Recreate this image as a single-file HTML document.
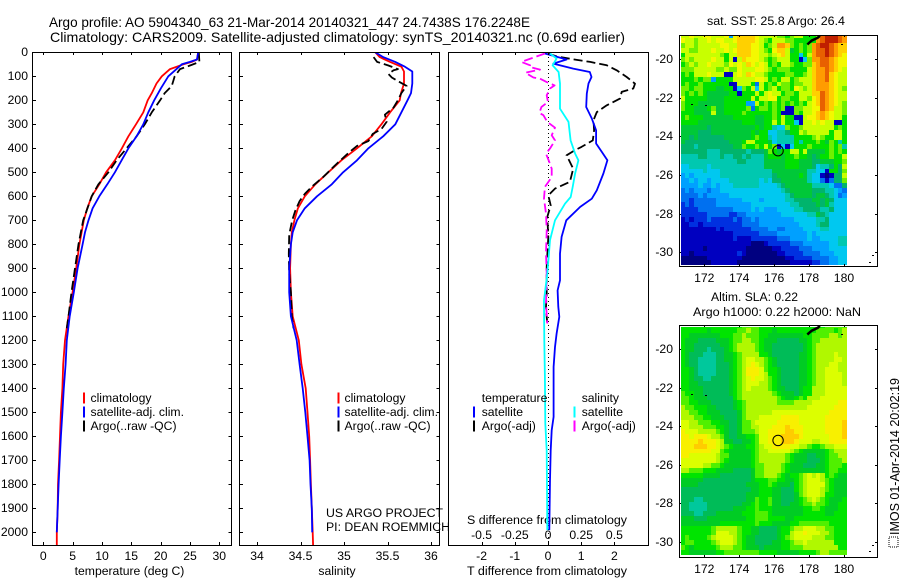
<!DOCTYPE html>
<html><head><meta charset="utf-8"><title>Argo profile 5904340_63</title>
<style>
html,body{margin:0;padding:0;background:#fff}
svg{display:block}
text{font-family:"Liberation Sans",sans-serif;font-size:12.2px;fill:#000}
.ttl{font-size:14px}
</style></head>
<body>
<svg id="fig" xmlns="http://www.w3.org/2000/svg" width="900" height="580" viewBox="0 0 900 580">
<defs>
<clipPath id="clipA"><rect x="33" y="53" width="198" height="492"/></clipPath>
<clipPath id="clipB"><rect x="240" y="53" width="199" height="492"/></clipPath>
<clipPath id="clipC"><rect x="449" y="53" width="199" height="492"/></clipPath>
<clipPath id="clipSST"><rect x="681" y="36" width="166" height="229"/></clipPath>
<clipPath id="clipSLA"><rect x="681" y="327" width="166" height="228"/></clipPath>
</defs>
<text class="ttl" x="49" y="27" textLength="481" lengthAdjust="spacingAndGlyphs">Argo profile: AO 5904340_63 21-Mar-2014 20140321_447 24.7438S 176.2248E</text>
<text class="ttl" x="50" y="42" textLength="575" lengthAdjust="spacingAndGlyphs">Climatology: CARS2009. Satellite-adjusted climatology: synTS_20140321.nc (0.69d earlier)</text>
<text x="707" y="25" textLength="138" lengthAdjust="spacingAndGlyphs">sat. SST: 25.8 Argo: 26.4</text>
<text x="711" y="301" textLength="87" lengthAdjust="spacingAndGlyphs">Altim. SLA: 0.22</text>
<text x="693" y="316" textLength="168" lengthAdjust="spacingAndGlyphs">Argo h1000: 0.22 h2000: NaN</text>
<text x="129.5" y="575" text-anchor="middle">temperature (deg C)</text>
<text x="337" y="575" text-anchor="middle">salinity</text>
<text x="467" y="575" textLength="160" lengthAdjust="spacingAndGlyphs">T difference from climatology</text>
<text x="467" y="524" textLength="160" lengthAdjust="spacingAndGlyphs">S difference from climatology</text>
<rect x="889" y="537" width="9" height="10" fill="none" stroke="#000" stroke-width="1" stroke-dasharray="1 1"/>
<text style="font-size:13px" transform="translate(899,535) rotate(-90)" textLength="157" lengthAdjust="spacingAndGlyphs">IMOS 01-Apr-2014 20:02:19</text>
<g id="plots"></g>
<text x="326" y="517" textLength="117" lengthAdjust="spacingAndGlyphs">US ARGO PROJECT</text>
<text x="326" y="531" textLength="124" lengthAdjust="spacingAndGlyphs">PI: DEAN ROEMMICH</text>
</svg>
<script>
// Shared depth ticks and axis tick labels
var depthTicks = [0,100,200,300,400,500,600,700,800,900,1000,1100,1200,1300,1400,1500,1600,1700,1800,1900,2000];
var tempTicks = [0,5,10,15,20,25,30];
var salTicks = [34,34.5,35,35.5,36];
var salTickLabels = ['34','34.5','35','35.5','36'];
var dTTicks = [-2,-1,0,1,2];
var dSTicks = [-0.5,-0.25,0,0.25,0.5];
var dSTickLabels = ['-0.5','-0.25','0','0.25','0.5'];
var lonTicks = [172,174,176,178,180];
var latTicks = [-20,-22,-24,-26,-28,-30];

// Temperature profiles
var climTDepth = [0,30,40,50,70,100,130,170,200,250,300,350,400,450,500,550,600,650,700,800,900,1000,1100,1200,1300,1400,1500,1600,1700,1800,1900,2000,2055];
var climTValue = [26.4,26.2,25.3,23.9,21.6,20.2,19.3,18.5,17.8,17.05,15.8,14.5,13.4,12.2,10.7,9.55,8.25,7.5,6.9,6.15,5.6,5.0,4.3,3.7,3.4,3.25,3.0,2.85,2.7,2.5,2.45,2.3,2.3];
var satTDepth = [0,30,40,50,70,100,150,200,250,300,350,400,450,500,550,600,650,700,750,800,900,1000,1100,1200,1300,1400,1500,1600,1700,1800,1900,2000];
var satTValue = [26.4,26.2,25,23.6,22.7,21.3,20.05,18.9,17.9,17.05,15.9,14.5,13.35,12.2,10.9,9.55,8.4,7.7,7.1,6.7,5.85,5.2,4.5,4.0,3.8,3.5,3.25,3.0,2.8,2.6,2.45,2.3];
var argoTDepth = [0,40,55,70,100,140,170,200,250,300,350,400,450,500,550,600,700,800,900,1000,1100,1150];
var argoTValue = [26.5,26.6,25,23.3,22.4,21.9,20.7,19.9,18.5,17.3,15.9,14.2,12.5,11.1,9.4,8.25,6.8,6,5.4,4.8,4.3,4.0];

// Salinity profiles
var climSDepth = [0,20,40,60,80,130,170,200,250,300,350,400,450,500,550,600,650,700,750,800,900,1000,1100,1200,1300,1400,1500,1600,1700,1800,1900,2000,2055];
var climSValue = [35.36,35.41,35.53,35.66,35.69,35.69,35.655,35.64,35.53,35.43,35.32,35.15,34.97,34.82,34.67,34.55,34.47,34.43,34.4,34.39,34.38,34.39,34.41,34.48,34.51,34.56,34.58,34.6,34.61,34.62,34.63,34.64,34.645];
var satSDepth = [0,20,40,60,80,130,170,200,250,300,350,400,450,500,550,600,650,700,750,800,900,1000,1100,1200,1300,1400,1500,1600,1700,1800,1900,2000];
var satSValue = [35.36,35.45,35.59,35.7,35.785,35.785,35.77,35.73,35.66,35.59,35.45,35.28,35.15,34.99,34.86,34.69,34.55,34.46,34.41,34.39,34.37,34.37,34.39,34.456,34.49,34.525,34.555,34.58,34.605,34.615,34.63,34.635];
var argoSDepth = [20,40,55,70,75,90,105,120,140,170,200,230,260,290,320,340,370,390,420,470,520,560,590,620,660,700,760,840,920,1000,1100,1150];
var argoSValue = [35.34,35.38,35.51,35.62,35.57,35.51,35.55,35.62,35.72,35.66,35.62,35.57,35.47,35.49,35.43,35.33,35.28,35.15,35.05,34.9,34.76,34.63,34.55,34.49,34.44,34.405,34.37,34.365,34.37,34.39,34.4,34.42];

// Differences from climatology
var diffTSatDepth = [5,30,47,68,82,103,130,172,228,276,325,380,415,450,505,575,610,644,700,769,839,950,992,1061,1102,1172,1228,1311,1519,1575,1658,1783,1991];
var diffTSatValue = [-0.09,0.56,0.16,0.76,1.26,1.31,1.22,1.17,1.15,1.32,1.45,1.45,1.62,1.79,1.67,1.47,1.32,0.97,0.55,0.41,0.36,0.36,0.29,0.31,0.34,0.26,0.21,0.17,0.17,0.11,0.08,0.06,0.04];
var diffTArgoDepth = [6,17,29,40,54,75,103,131,151,165,193,221,249,283,325,367,394,408,429,485,540,568,596,638,686,769,894,1006,1061,1102,1130];
var diffTArgoValue = [0.01,0.26,0.76,1.27,1.77,2.07,2.37,2.62,2.57,2.22,2.17,1.77,1.47,1.37,1.39,1.35,1.01,0.81,0.56,0.76,0.66,0.21,0.01,0.08,-0.02,0.01,-0.04,-0.04,-0.06,-0.04,-0.02];
var diffSSatDepth = [5,26,54,82,130,235,290,367,422,450,505,561,603,631,700,783,922,1033,1047,1200,1352,1547,1658,1991];
var diffSSatValue = [0.015,0.065,0.035,0.08,0.09,0.09,0.154,0.17,0.204,0.229,0.204,0.186,0.171,0.128,0.053,0.015,-0.005,-0.03,-0.03,-0.028,-0.023,-0.02,-0.01,-0.005];
var diffSArgoDepth = [5,22,40,54,61,72,85,105,110,124,138,151,179,207,228,253,262,290,314,346,367,401,422,457,485,520,561,610,672,742,839,922,1047,1130];
var diffSArgoValue = [-0.023,-0.11,-0.2,-0.135,-0.14,-0.06,-0.17,-0.11,-0.06,-0.01,0.05,0.015,-0.01,0,-0.05,-0.065,-0.035,-0.005,0.053,0.028,0.053,0.015,-0.015,0.01,0.028,0.028,-0.023,-0.03,-0.015,-0.01,-0.015,-0.01,-0.015,-0.005];

// Map grids: one character per 0.25 degree cell, colour level (base 36)
var sstRows = [
"bbcbbccbbb c4cddddcbb bbaa9abb99 9afgggfe",
"cbbabbcbcc bbcddddcba 9bbbaa9999 9efgggfe",
"abbabbbbbc cbbdddccb9 abeeda9a9a efggfedd",
"bbaabbbcbb cbcdddccba 9cddb89a9a effgfedd",
"9bbbbbbbba 9bbdddccbb abcdb9959b effgfedc",
"ababbbbcbb 9b1bdcccba 9abbb9915a eeffedcc",
"9ababbcbbb acbcbdcbcb 9a9bba99aa deffedcc",
"aaabbbbbaa baacbbbccb a9aaa9999b deefedcb",
"9a9bbbcbbb 11bcbdcbba 9999aa99ab deefdcbb",
"999a9aa499 99bbbbbccb 9a9bb9abbb deefdcbb",
"9a99a99999 911bbb93b9 a9baa9aabb deeedcbb",
"aa9aa99988 9915a9b5b9 ab9aa9cbab deeedcba",
"a9a9a98888 8991999b9b cbb9aa9bbb ddfedcbb",
"b999998888 999999b9bb cc9aa99bba cdfedcbb",
"a999888888 9999944b9a 9a9a9a9a9b cdfedcba",
"a998889a88 99999a39aa 9a9a11aabb ccfedbba",
"9998888b88 9999a99999 9a9111a9bb cdedcbba",
"9a99988888 8899999889 9a9b9911bc cdedcbb9",
"9999888888 8888999889 9b9b9951bb cbcbb119",
"8888887888 8888888989 9655a99abb bbbbb9a9",
"8888777888 8888889899 5566799bab bbbb9bb9",
"8878777777 8888889a99 6566669999 aba99bb9",
"8777777777 78889bb999 8566669699 9a98a969",
"7776777777 7788a99a9b 9a15159 99a 9999a9a6",
"7777776667 7777767778 a9899bb9b8 8889a9a9",
"6666776667 6677676668 999899a998 7899a99b",
"6666666666 6667766668 8888999888 7788899a",
"5566665666 6666666668 8888999888 7566797b",
"5555565556 6666666666 6888888886 6551997a",
"4545555556 6666666666 6788888986 5510177b",
"4454554555 5666666656 5778888886 5531377a",
"4444544545 5566666655 5567888888 66665337",
"3434443445 5555555555 5556788888 77766543",
"3333434444 4555555555 5555678888 78876534",
"3323333344 4444555545 5555667777 88787555",
"2323333344 4444445555 5555566777 78786555",
"2222333333 3344445454 4455556677 77667555",
"2222223333 3223344444 4445555556 68765555",
"1212223222 2232334344 4444445555 56675555",
"1122122222 2222333344 4444444555 56775555",
"1111111121 2222223333 4433444455 55665555",
"1111111111 1122222233 3344444445 45555555",
"1111111111 1121112222 2233344445 44555566",
"1111111111 1111110001 2222233344 44445566",
"1111101111 1111100000 0112222333 44445555",
"1101111111 1112100000 0011222233 33444555",
"0000001111 1111000000 0000112222 33334455",
"0000000111 1110000000 0000011111 22334455"
];
var slaRows = [
"9999999999 9999aaaa99 9999999999 9a9aaaaa",
"9999998999 999aabaa99 9899999999 9aaaa9ab",
"9988888889 99aabaaa99 8888888899 aaaabbab",
"9888777788 89aabbaa98 8877777889 aabbbbbb",
"9887777778 89abbbba98 8777777789 abbbbbbb",
"9887776777 89abbbba98 8777777789 abbbbbbb",
"9877766677 889abbbb99 8777777889 abbbbcbb",
"9877666677 889abccbba 9877777889 abbbbccb",
"9877666677 789abcdcba 9877777889 abbbccbb",
"9987666677 789abdddca 9987777889 abbcccbb",
"9987666677 789abdddcb 9987777889 abbccccb",
"9987766777 789abcdccb a987777889 abbccccb",
"9988777777 789abcccbb a987777889 abbccccb",
"9988877777 789abcbbbb a988777899 bbbccccc",
"a998877777 789abbbbbb ba98887899 bbbccccc",
"aa98887777 779abbbbbb bba9889a9b bbcccccc",
"aa99888777 7789abbbbb bbaaaabbbb ccccccdd",
"baa9998877 7789abbbbb bbbbbbbbbc cccccddd",
"bbaa998887 7778abbbbb bccccccccc ccccdddd",
"bbbaa99888 7778abbbcc cccddddccc cccddddd",
"ccbbaaa998 8778aabccc ccdddddccc cccdddde",
"ccbbbaaa99 8778aabbcc cdddedddcc cccdddde",
"dcccbbbba9 8778aaabcc ddddeeddcc cccdddde",
"ddcdddcbba 8778899acc dddeeeedcc ccccddde",
"ddddedddcb 8877889acc dddeeedccc bbccdddd",
"dddeeeddcb a988899abc cddddccbba 99abbccc",
"dddddddcca 9888889abb cccccba988 8889abbb",
"ddccccccba a888889abb bbbba98887 7889aabb",
"ccccccccba 9888889abb bbbba98887 7789aaab",
"cccccbbaa9 8888889aab bbba988877 7889aaa9",
"bbaaa99988 8877778aab bbba988888 8889aa99",
"9999988887 7777778aab bba9899abc bcb9a988",
"8888877777 7777778999 aa99889abc ccba9888",
"8888777777 7777788899 a988879abc ccca9888",
"7777777777 7777778899 9887779abc ccba9888",
"7777777777 7777788899 9887778abc ccb99888",
"7776677777 7777788a99 a88777 89ab cba98889",
"7766667777 7777889a99 a887788 9aa baa98899",
"7766667777 7788899a99 9888888899 aa988899",
"7776677788 8888999aaa 9888888899 99988999",
"8887778888 8888899aaa 9999889999 99999999",
"8888888889 9999999a99 9888899aaa aaaa9999",
"9999999abb bbba998877 77899abbcc cbbaa999",
"9999999acc cbba998877 77899bccdc ccbba999",
"9a9999abcc ccba988777 7789abcccc bbbaa999",
"9aa9999abc ccba988777 78899abbcb bbbbb999",
"a989999 9ab bbaa988878 88899aaabb bbbbbb99",
"9988888899 aaaaaaaa99 9988888999 9abbaaaa"
];
var sstColors = ['#000080','#0000c0','#0030e0','#0070f0','#00a0ff','#00c8f0','#00c8b0','#00b46c','#00c838','#00e000','#70f000','#c8ff00','#f4f800','#ffd000','#ff9c00','#e86000','#c02000'];
var slaColors = ['#000080','#0000c0','#0030e0','#0070f0','#00a0ff','#00c8f0','#00c89c','#00bc58','#00cc24','#00e400','#50f000','#b0f800','#dcff00','#f8f000','#ffcc00'];

// Float position and coastline fragments (lon, lat)
var floatLon = [176.2248];
var floatLat = [-24.7438];
var islandLon = [177.9,178.15,178.5,178.62];
var islandLat = [-19.25,-19.05,-18.9,-18.8];
var speckLon = [171.25,172.05,179.83,181.45,181.6];
var speckLat = [-22.35,-22.4,-19.2,-30.5,-30.15];

var NS = 'http://www.w3.org/2000/svg';
var root = document.getElementById('plots');
function mk(tag, name, parent, attrs) {
  var el = document.createElementNS(NS, tag);
  
  
  for (var k in attrs) el.setAttribute(k, attrs[k]);
  (parent || root).appendChild(el);
  return el;
}
function txt(name, s, x, y, anchor) {
  var t = mk('text', name, root, {x: x, y: y, 'text-anchor': anchor || 'start'});
  t.textContent = s;
  return t;
}
function line(name, x1, y1, x2, y2) {
  return mk('line', name, root, {x1: x1, y1: y1, x2: x2, y2: y2, stroke: '#000', 'stroke-width': 1, 'shape-rendering': 'crispEdges'});
}
// Axis functions
function yD(d) { return 52.3 + 0.24 * d; }
function xT(v) { return 43.3 + 5.867 * v; }
function xS(v) { return 257 + 87 * (v - 34); }
function xDT(v) { return 548 + 33.2 * v; }
function xDS(v) { return 548 + 132.8 * v; }
function xLon(v) { return 704.3 + 17.46 * (v - 172); }
function ySST(v) { return 59 - 19.33 * (v + 20); }
function ySLA(v) { return 349 - 19.27 * (v + 20); }

function frame(name, x0, y0, x1, y1) {
  return mk('rect', name, root, {x: x0 + .5, y: y0 + .5, width: x1 - x0, height: y1 - y0, fill: 'none', stroke: '#000', 'stroke-width': 1, 'shape-rendering': 'crispEdges'});
}
function series(name, xf, values, depths, color, clip, dashed, w) {
  var pts = values.map(function (v, i) { return xf(v).toFixed(1) + ',' + yD(depths[i]).toFixed(1); }).join(' ');
  var a = {points: pts, fill: 'none', stroke: color, 'stroke-width': w || 1.8, 'clip-path': 'url(#' + clip + ')', 'stroke-linejoin': 'round'};
  if (dashed) a['stroke-dasharray'] = '9 4';
  return mk('polyline', name, root, a);
}
function depthAxis(x0, x1, withLabels) {
  depthTicks.forEach(function (d) {
    var y = Math.round(yD(d)) + .5;
    if (d > 0) {
      line('depth-tick', x0, y, x0 + 4, y);
      line('depth-tick', x1 - 3, y, x1, y);
    }
    if (withLabels) txt('depth-tick-label', String(d), 28, Math.round(yD(d)) + 4, 'end');
  });
}
function bottomAxis(ticks, labels, xf, yLab, baseName, yBot, yTop) {
  ticks.forEach(function (v, i) {
    var x = Math.round(xf(v)) + .5;
    line(baseName + '-tick', x, yBot - 3, x, yBot);
    line(baseName + '-tick', x, yTop, x, yTop + 3);
    txt(baseName + '-tick-label', labels[i], xf(v), yLab, 'middle');
  });
}
function fmt(a) { return a.map(String); }

// Panel 1 temperature
series('climatology-temperature-line', xT, climTValue, climTDepth, '#ff0000', 'clipA');
series('argo-temperature-line', xT, argoTValue, argoTDepth, '#000000', 'clipA', true);
series('satellite-temperature-line', xT, satTValue, satTDepth, '#0000ff', 'clipA');
// Panel 2 salinity
series('climatology-salinity-line', xS, climSValue, climSDepth, '#ff0000', 'clipB');
series('argo-salinity-line', xS, argoSValue, argoSDepth, '#000000', 'clipB', true);
series('satellite-salinity-line', xS, satSValue, satSDepth, '#0000ff', 'clipB');
// Panel 3 differences
mk('line', 'zero-difference-line', root, {x1: 548.5, y1: 53, x2: 548.5, y2: 545, stroke: '#000', 'stroke-width': 1, 'stroke-dasharray': '1 3'});
series('temperature-argo-difference-line', xDT, diffTArgoValue, diffTArgoDepth, '#000000', 'clipC', true);
series('salinity-argo-difference-line', xDS, diffSArgoValue, diffSArgoDepth, '#ff00ff', 'clipC', true);
series('temperature-satellite-difference-line', xDT, diffTSatValue, diffTSatDepth, '#0000ff', 'clipC');
series('salinity-satellite-difference-line', xDS, diffSSatValue, diffSSatDepth, '#00ffff', 'clipC');

// Frames and axes
frame('temperature-axes-frame', 32, 52, 231, 545);
frame('salinity-axes-frame', 239, 52, 439, 545);
frame('difference-axes-frame', 448, 52, 648, 545);
depthAxis(32, 231.5, true);
depthAxis(239, 439.5, false);
bottomAxis(tempTicks, fmt(tempTicks), xT, 560, 'temperature', 545, 52);
bottomAxis(salTicks, salTickLabels, xS, 560, 'salinity', 545, 52);
bottomAxis(dTTicks, fmt(dTTicks), xDT, 560, 't-difference', 545, 52);
dSTicks.forEach(function (v, i) {
  txt('s-difference-tick-label', dSTickLabels[i], xDS(v), 539, 'middle');
});

// Legends
function legend(prefix, bx, tx, entries) {
  entries.forEach(function (e, i) {
    var base = 402 + i * 14;
    if (e[1]) mk('rect', prefix + '-legend-swatch', root, {x: bx, y: base - 9.5, width: 2, height: 11, fill: e[1]});
    txt(prefix + '-legend-label', e[0], tx, base);
  });
}
var legendMain = [['climatology', '#ff0000'], ['satellite-adj. clim.', '#0000ff'], ['Argo(..raw -QC)', '#000000']];
legend('temperature', 83, 90.5, legendMain);
legend('salinity', 337.5, 344.5, legendMain);
legend('difference-temperature', 473, 481.7, [['temperature', null], ['satellite', '#0000ff'], ['Argo(-adj)', '#000000']]);
legend('difference-salinity', 573.5, 581.7, [['salinity', null], ['satellite', '#00ffff'], ['Argo(-adj)', '#ff00ff']]);

// Heatmaps
function heatmap(name, rows, colors, yf, clip) {
  var g = mk('g', name, root, {'clip-path': 'url(#' + clip + ')', 'shape-rendering': 'crispEdges'});
  var lon0 = 170.65, lat0 = -18.67, step = 0.25;
  rows.forEach(function (r, ri) {
    var s = r.replace(/ /g, '');
    for (var c = 0; c < 38; c++) {
      var ch = s.charAt(Math.min(c, s.length - 1));
      var x0 = xLon(lon0 + c * step), x1 = xLon(lon0 + (c + 1) * step);
      var y0 = yf(lat0 - ri * step), y1 = yf(lat0 - (ri + 1) * step);
      var cell = document.createElementNS(NS, 'rect');
      
      
      cell.setAttribute('x', Math.round(x0));
      cell.setAttribute('y', Math.round(y0));
      cell.setAttribute('width', Math.round(x1) - Math.round(x0));
      cell.setAttribute('height', Math.round(y1) - Math.round(y0));
      cell.setAttribute('fill', colors[parseInt(ch, 36)]);
      g.appendChild(cell);
    }
  });
}
heatmap('sst-heatmap', sstRows, sstColors, ySST, 'clipSST');
heatmap('sla-heatmap', slaRows, slaColors, ySLA, 'clipSLA');

function mapDecor(prefix, yf) {
  var pts = islandLon.map(function (v, i) { return xLon(v).toFixed(1) + ',' + yf(islandLat[i]).toFixed(1); }).join(' ');
  mk('polyline', prefix + '-island', root, {points: pts, fill: 'none', stroke: '#000', 'stroke-width': 2.5});
  speckLon.forEach(function (v, i) {
    mk('rect', prefix + '-coast-speck', root, {x: Math.round(xLon(v)), y: Math.round(yf(speckLat[i])), width: 2, height: 1, fill: '#000'});
  });
  mk('circle', prefix + '-float-marker', root, {cx: xLon(floatLon[0]), cy: yf(floatLat[0]), r: 5.2, fill: 'none', stroke: '#000', 'stroke-width': 1});
}
mapDecor('sst', ySST);
mapDecor('sla', ySLA);

function mapAxes(prefix, yf, top, bottom, labY) {
  frame(prefix + '-map-frame', 679, top, 877, bottom);
  lonTicks.forEach(function (v) {
    var x = Math.round(xLon(v)) + .5;
    line(prefix + '-lon-tick', x, bottom - 2, x, bottom);
    line(prefix + '-lon-tick', x, top, x, top + 2);
    txt(prefix + '-lon-tick-label', String(v), xLon(v), labY, 'middle');
  });
  latTicks.forEach(function (v) {
    var y = Math.round(yf(v)) + .5;
    line(prefix + '-lat-tick', 679, y, 681, y);
    line(prefix + '-lat-tick', 875, y, 877, y);
    txt(prefix + '-lat-tick-label', String(v), 673, Math.round(yf(v)) + 4, 'end');
  });
}
mapAxes('sst', ySST, 35, 266, 282);
mapAxes('sla', ySLA, 325, 557, 573);
</script>
</body></html>
